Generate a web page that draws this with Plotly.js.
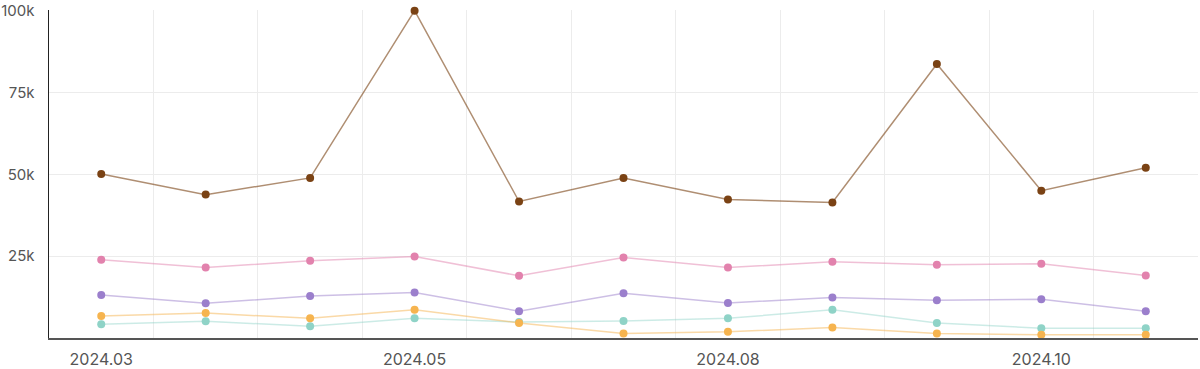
<!DOCTYPE html>
<html>
<head>
<meta charset="utf-8">
<script src="https://cdn.plot.ly/plotly-3.0.1.min.js"></script>
<style>html,body{margin:0;padding:0;background:#fff;}#chart{width:1200px;height:369px;}</style>
</head>
<body>
<div id="chart"></div>
<script>
const periods = [0,1,2,3,4,5,6,7,8,9,10];
const tickPositions = [0,3,6,9];
const tickLabels = ['2024.03','2024.05','2024.08','2024.10'];
const yTickValues = [25000, 50000, 75000, 100000];
const yTickLabels = ['25k','50k','75k','100k'];
const seriesNames = ['Series E','Series D','Series C','Series B','Series A'];
const tealValues   = [4200,5100,3600,6000,4900,5200,6000,8600,4600,3000,3000];
const orangeValues = [6700,7600,6000,8600,4600,1400,1900,3200,1400,1000,1000];
const purpleValues = [13100,10600,12800,13900,8200,13700,10700,12400,11500,11800,8200];
const pinkValues   = [23900,21500,23600,24900,19000,24600,21500,23300,22400,22700,19100];
const brownValues  = [50100,43800,48900,100000,41700,48900,42300,41400,83700,45000,52000];
const markerColors = ['#8fd3c7','#f6b44f','#9b7fcc','#e282ad','#7a4214'];
const lineColors = ['rgba(143,211,199,0.45)','rgba(246,180,79,0.5)','rgba(155,127,204,0.5)','rgba(226,130,173,0.5)','rgba(122,66,20,0.6)'];
const allValues = [tealValues, orangeValues, purpleValues, pinkValues, brownValues];

const traces = allValues.map((vals, i) => ({
  type: 'scatter',
  mode: 'lines+markers',
  name: seriesNames[i],
  x: periods,
  y: vals,
  line: {color: lineColors[i], width: 1.5},
  marker: {color: markerColors[i], size: 8},
  cliponaxis: false,
  hoverinfo: 'y'
}));

const layout = {
  width: 1200, height: 369,
  margin: {l: 49, r: 2, t: 10, b: 31},
  paper_bgcolor: '#fff', plot_bgcolor: '#fff',
  showlegend: false,
  font: {family: 'Inter, "Open Sans", sans-serif', size: 16, color: '#555'},
  xaxis: {
    range: [-0.5, 10.5],
    tickmode: 'array', tickvals: tickPositions, ticktext: tickLabels,
    showgrid: false, zeroline: false,
    showline: true, linecolor: '#555', linewidth: 2,
    ticks: 'outside', ticklen: 6, tickcolor: 'rgba(0,0,0,0)',
    tickfont: {size: 16, color: '#555'},
    minor: {tick0: 0.5, dtick: 1, showgrid: true, gridcolor: '#ececec', gridwidth: 1, ticks: ''}
  },
  yaxis: {
    range: [0, 100200],
    tickmode: 'array', tickvals: yTickValues, ticktext: yTickLabels,
    ticklabeloverflow: 'allow',
    showgrid: true, gridcolor: '#ececec', gridwidth: 1,
    zeroline: false,
    showline: true, linecolor: '#222', linewidth: 1.5,
    ticks: 'outside', ticklen: 10, tickcolor: 'rgba(0,0,0,0)',
    tickfont: {size: 15, color: '#555'}
  }
};

Plotly.newPlot('chart', traces, layout, {displayModeBar: false, staticPlot: true});
</script>
</body>
</html>
